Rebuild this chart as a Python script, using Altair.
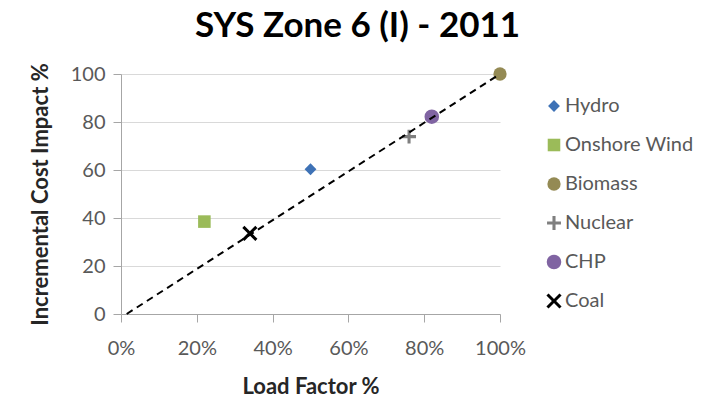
import altair as alt
import pandas as pd

# ---- data ----
sources = ["Hydro", "Onshore Wind", "Biomass", "Nuclear", "CHP", "Coal"]
load_factor = [0.50, 0.22, 1.00, 0.76, 0.82, 0.34]
cost_impact = [60.3, 38.5, 100.0, 73.9, 82.2, 33.6]

trend_x = [0.015, 1.0]
trend_y = [0.0, 100.0]

x_ticks = [0, 0.2, 0.4, 0.6, 0.8, 1.0]
y_ticks = [0, 20, 40, 60, 80, 100]

# ---- styles ----
colors = ["#3E72B6", "#9BBB59", "#948A54", "#7F7F7F", "#8064A2", "#000000"]
x_path = ("M-1,-0.72L-0.72,-1L0,-0.28L0.72,-1L1,-0.72L0.28,0L1,0.72L0.72,1"
          "L0,0.28L-0.72,1L-1,0.72L-0.28,0Z")
plus_path = ("M-1,-0.22L-0.22,-0.22L-0.22,-1L0.22,-1L0.22,-0.22L1,-0.22L1,0.22"
             "L0.22,0.22L0.22,1L-0.22,1L-0.22,0.22L-1,0.22Z")
shapes = ["diamond", "square", "circle", plus_path, "circle", x_path]
sizes = [140, 230, 260, 160, 260, 250]

df = pd.DataFrame({"source": sources, "lf": load_factor, "ci": cost_impact})
trend = pd.DataFrame({"lf": trend_x, "ci": trend_y})

FONT = "Lato"
GREY = "#595959"

x_enc = alt.X("lf:Q", scale=alt.Scale(domain=[0, 1], nice=False),
              axis=alt.Axis(values=x_ticks, format=".0%", title="Load Factor %",
                            grid=False, tickSize=8, labelPadding=16,
                            labelFlush=False, labelOverlap=False,
                            titlePadding=18))
y_enc = alt.Y("ci:Q", scale=alt.Scale(domain=[0, 100], nice=False),
              axis=alt.Axis(values=y_ticks, title="Incremental Cost Impact %",
                            grid=True, tickSize=8, labelPadding=8,
                            titlePadding=18))

points = alt.Chart(df).mark_point(filled=True, opacity=1).encode(
    x=x_enc,
    y=y_enc,
    color=alt.Color("source:N", scale=alt.Scale(domain=sources, range=colors),
                    legend=alt.Legend(title=None, orient="none",
                                      legendX=423, legendY=22)),
    shape=alt.Shape("source:N", scale=alt.Scale(domain=sources, range=shapes)),
    size=alt.Size("source:N", scale=alt.Scale(domain=sources, range=sizes),
                  legend=None),
)

line = alt.Chart(trend).mark_line(color="#000000", strokeWidth=2,
                                  strokeDash=[7, 5]).encode(
    x="lf:Q", y="ci:Q"
)

chart = alt.layer(points, line).properties(
    width=379,
    height=240,
    title=alt.Title("SYS Zone 6 (I) - 2011", fontSize=35, font=FONT,
                    fontWeight="bold", color="#000000", anchor="middle",
                    dx=47, offset=19),
    autosize=alt.AutoSizeParams(type="none"),
    padding={"left": 113, "top": 66, "right": 202, "bottom": 81},
).configure_view(stroke=None).configure_axis(
    labelFont=FONT, labelFontSize=20, labelColor=GREY,
    titleFont=FONT, titleFontSize=22, titleFontWeight="bold", titleColor="#262626",
    domainColor="#A6A6A6", tickColor="#A6A6A6", gridColor="#D9D9D9",
).configure_legend(
    labelFont=FONT, labelFontSize=20, labelColor=GREY,
    symbolSize=120, rowPadding=19, symbolStrokeWidth=0, labelOffset=1,
)

chart.save("out.html", embed_options={"renderer": "svg", "actions": False})
